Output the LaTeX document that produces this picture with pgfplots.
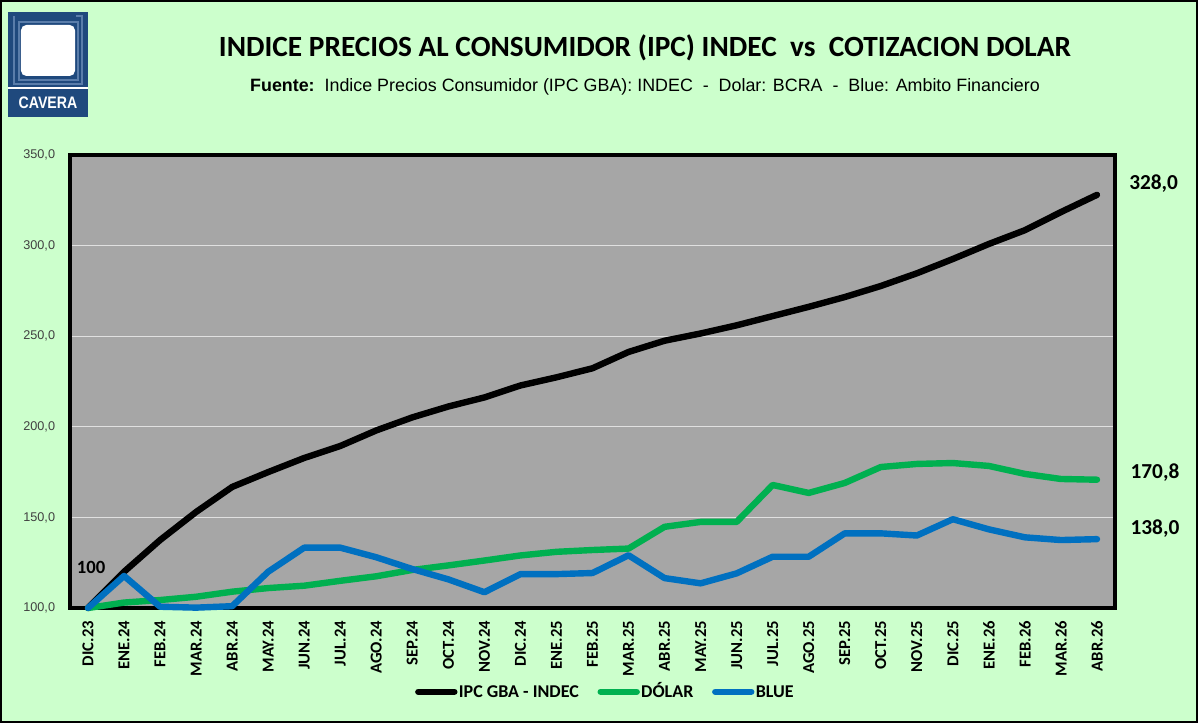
\documentclass[border=0pt]{standalone}
\usepackage{fontspec}
\setmainfont{Liberation Sans}
\newfontfamily\calibri{Carlito}
\usepackage{graphicx}
\usepackage{pgfplots}
\usepackage{pgfplotstable}
\pgfplotsset{compat=1.18}

\definecolor{bg}{RGB}{204,255,204}
\definecolor{plotgray}{RGB}{166,166,166}
\definecolor{dolarc}{RGB}{0,176,80}
\definecolor{bluec}{RGB}{0,112,192}
\definecolor{logoblue}{RGB}{31,73,125}
\definecolor{logoline}{RGB}{90,125,170}

% indices base DIC.23 = 100
\pgfplotstableread{
idx ipc dolar blue
0  100.0 100.0 100.0
1  120.0 103.0 117.7
2  137.5 104.4 100.7
3  153.0 106.2 100.2
4  166.8 109.0 101.0
5  175.0 111.0 120.0
6  182.8 112.3 133.3
7  189.4 115.0 133.3
8  198.0 117.5 128.0
9  205.2 121.0 121.5
10 211.2 123.5 115.8
11 216.2 126.2 108.7
12 222.8 129.0 118.7
13 227.3 131.0 118.7
14 232.3 132.0 119.3
15 241.3 132.8 129.1
16 247.5 144.8 116.5
17 251.5 147.5 113.6
18 256.0 147.5 119.1
19 261.1 167.9 128.3
20 266.2 163.5 128.3
21 271.6 169.0 141.2
22 277.7 177.8 141.2
23 284.7 179.5 140.0
24 292.6 180.0 149.0
25 300.9 178.4 143.4
26 308.5 174.0 139.0
27 318.5 171.2 137.5
28 328.0 170.8 138.0
}\datos

\begin{document}
\begin{tikzpicture}
% fondo y encabezado, en pixeles de la imagen
\begin{scope}[shift={(-52.5pt,456pt)}, x=0.75pt, y=-0.75pt]
  \fill[bg] (0,0) rectangle (1198,723);
  \useasboundingbox (0,0) rectangle (1198,723);
  \draw[black, line width=2pt] (1,1) rectangle (1197,722);
  % logo CAVERA
  \fill[logoblue] (8,12) rectangle (88,117);
  \draw[logoline, line width=1.2pt] (14,16) -- (14,84) -- (82,84) -- (82,16) -- (76,16);
  \draw[logoline, line width=1.2pt] (19,22) -- (78,22) -- (78,80) -- (19,80) -- cycle;
  \fill[white, rounded corners=4] (21,25) rectangle (75,76);
  \draw[white, line width=1pt] (8,88) -- (88,88);
  \node[text=white, font=\bfseries\fontsize{12.5}{13}\selectfont, inner sep=0pt] at (48,103) {\scalebox{0.85}[1]{CAVERA}};
  % titulos
  \node[font=\calibri\bfseries\fontsize{22}{24}\selectfont, inner sep=0pt] at (645,48)
    {INDICE PRECIOS AL CONSUMIDOR (IPC) INDEC\ \ vs\ \ COTIZACION DOLAR};
  \node[font=\fontsize{13.4}{15}\selectfont, inner sep=0pt] at (645,87)
    {\textbf{Fuente:}\ \ Indice Precios Consumidor (IPC GBA): INDEC\ \ -\ \ Dolar: BCRA\ \ -\ \ Blue: Ambito Financiero};
\end{scope}

\begin{axis}[
  width=783.75pt, height=339.75pt, scale only axis,
  xmin=-0.5, xmax=28.5, ymin=100, ymax=350,
  axis background/.style={fill=plotgray},
  axis line style={line width=3.5pt, black},
  ytick={100,150,...,350},
  yticklabels={{100,0},{150,0},{200,0},{250,0},{300,0},{350,0}},
  ymajorgrids, major grid style={draw=white!88!black, line width=0.9pt},
  xtick={0,...,28},
  xticklabels={DIC.23,ENE.24,FEB.24,MAR.24,ABR.24,MAY.24,JUN.24,JUL.24,AGO.24,SEP.24,OCT.24,NOV.24,DIC.24,ENE.25,FEB.25,MAR.25,ABR.25,MAY.25,JUN.25,JUL.25,AGO.25,SEP.25,OCT.25,NOV.25,DIC.25,ENE.26,FEB.26,MAR.26,ABR.26},
  major tick length=0pt,
  yticklabel style={font=\fontsize{9.5}{10}\selectfont, text=black!75, anchor=east, inner sep=0pt, xshift=-11pt},
  xticklabel style={font=\calibri\bfseries\fontsize{12.5}{13}\selectfont, yshift=-9.5pt, rotate=90, anchor=east, inner sep=0pt},
  clip=false,
  legend columns=3,
  legend style={at={(0.512,-0.185)}, anchor=center, draw=none, fill=none,
    font=\calibri\bfseries\fontsize{13.5}{15}\selectfont,
    nodes={inner sep=1pt, text height=9pt, text depth=0pt},
    /tikz/every even column/.append style={column sep=13pt}},
  legend image code/.code={\draw[#1, line cap=round] (0pt,0pt) -- (27pt,0pt);},
]
\addplot[black, line width=4.8pt, line join=round, line cap=round] table[x=idx, y=ipc] {\datos};
\addlegendentry{IPC GBA - INDEC}
\addplot[dolarc, line width=4.8pt, line join=round, line cap=round] table[x=idx, y=dolar] {\datos};
\addlegendentry{DÓLAR}
\addplot[bluec, line width=4.8pt, line join=round, line cap=round] table[x=idx, y=blue] {\datos};
\addlegendentry{BLUE}

\node[anchor=west, inner sep=0pt, font=\calibri\bfseries\fontsize{16}{18}\selectfont, xshift=10.5pt] at (axis cs:28.5,334.5) {328,0};
\node[anchor=west, inner sep=0pt, font=\calibri\bfseries\fontsize{16}{18}\selectfont, xshift=11.5pt] at (axis cs:28.5,175) {170,8};
\node[anchor=west, inner sep=0pt, font=\calibri\bfseries\fontsize{16}{18}\selectfont, xshift=11.5pt] at (axis cs:28.5,143.6) {138,0};
\node[anchor=west, inner sep=0pt, font=\calibri\bfseries\fontsize{14}{16}\selectfont, xshift=5pt] at (axis cs:-0.5,122.6) {100};
\end{axis}
\end{tikzpicture}
\end{document}
